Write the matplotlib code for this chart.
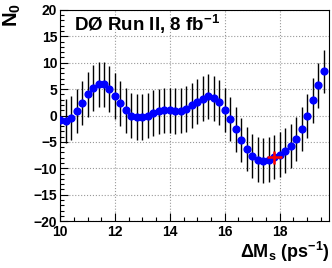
import numpy as np
import matplotlib
matplotlib.use("Agg")
import matplotlib.pyplot as plt

plt.rcParams['font.family'] = ['Liberation Sans', 'DejaVu Sans']
plt.rcParams['mathtext.fontset'] = 'custom'
plt.rcParams['mathtext.rm'] = 'Liberation Sans:bold'
plt.rcParams['mathtext.it'] = 'Liberation Sans:bold'
plt.rcParams['mathtext.bf'] = 'Liberation Sans:bold'
plt.rcParams['mathtext.default'] = 'bf'

# Delta M_s scan points (ps^-1)
dms = [10.0, 10.2, 10.4, 10.6, 10.8, 11.0, 11.2, 11.4, 11.6, 11.8,
       12.0, 12.2, 12.4, 12.6, 12.8, 13.0, 13.2, 13.4, 13.6, 13.8,
       14.0, 14.2, 14.4, 14.6, 14.8, 15.0, 15.2, 15.4, 15.6, 15.8,
       16.0, 16.2, 16.4, 16.6, 16.8, 17.0, 17.2, 17.4, 17.6, 17.8,
       18.0, 18.2, 18.4, 18.6, 18.8, 19.0, 19.2, 19.4, 19.6]
n0 = [-0.9, -1.1, -0.5, 0.8, 2.4, 4.0, 5.2, 5.9, 5.9, 5.0,
      3.7, 2.3, 1.0, 0.0, -0.3, -0.3, 0.0, 0.5, 0.8, 0.95,
      0.95, 0.85, 0.9, 1.25, 1.9, 2.6, 3.2, 3.65, 3.25, 2.5,
      1.1, -0.6, -2.65, -4.6, -6.35, -7.7, -8.35, -8.55, -8.35, -7.9,
      -7.4, -6.65, -5.75, -4.45, -2.55, -0.1, 2.85, 5.7, 8.4]
n0_err = [4.2, 4.2, 4.2, 4.2, 4.2, 4.3, 4.3, 4.3, 4.3, 4.3,
          4.3, 4.3, 4.3, 4.3, 4.3, 4.3, 4.3, 4.3, 4.3, 4.3,
          4.3, 4.3, 4.3, 4.3, 4.3, 4.3, 4.3, 4.3, 4.3, 4.3,
          4.2, 4.2, 4.2, 4.2, 4.2, 4.2, 4.2, 4.2, 4.2, 4.2,
          4.2, 4.2, 4.2, 4.2, 4.2, 4.2, 4.2, 4.2, 4.1]

# best-fit marker
best_x, best_y = 17.8, -7.9
best_xerr, best_yerr = 0.27, 1.25

fig = plt.figure(figsize=(3.32, 2.68), dpi=100)
ax = fig.add_axes([0.181, 0.175, 0.81, 0.788])

ax.errorbar(dms, n0, yerr=n0_err, fmt='o', color='blue', markersize=4.9,
            ecolor='black', elinewidth=1.0, capsize=0, zorder=3)
ax.errorbar([best_x], [best_y], xerr=[best_xerr], yerr=[best_yerr], fmt='none',
            ecolor='red', elinewidth=1.8, capsize=0, zorder=4)

ax.set_xlim(10, 19.8)
ax.set_ylim(-20, 20)
ax.set_xticks([10, 12, 14, 16, 18])
ax.set_yticks([-20, -15, -10, -5, 0, 5, 10, 15, 20])
ax.set_xticks(np.arange(10, 19.8, 0.5), minor=True)
ax.set_yticks(np.arange(-20, 20.1, 1), minor=True)
ax.grid(True, which='major', linestyle=':', color='#999999', linewidth=0.8)

ax.tick_params(which='both', direction='in', top=False, right=False,
               labelsize=10)
ax.tick_params(axis='x', pad=3)
ax.tick_params(axis='y', pad=2)
ax.tick_params(which='major', length=6, width=0.8)
ax.tick_params(which='minor', length=3, width=0.8)
for lab in ax.get_xticklabels() + ax.get_yticklabels():
    lab.set_fontweight('bold')
for sp in ax.spines.values():
    sp.set_linewidth(0.8)

ax.text(0.052, 0.93, r'DØ Run II, 8 fb$^{-1}$', transform=ax.transAxes,
        fontsize=13.5, fontweight='bold', ha='left', va='center')

fig.text(330 / 332, 1 - 252 / 268, r'ΔM$_{s}$ (ps$^{-1}$)', fontsize=13,
         fontweight='bold', ha='right', va='center')
fig.text(12 / 332, 1 - 3 / 268, r'N$_{0}$', fontsize=14.5, fontweight='bold',
         rotation=90, ha='center', va='top')

fig.savefig('out.png', dpi=100)
